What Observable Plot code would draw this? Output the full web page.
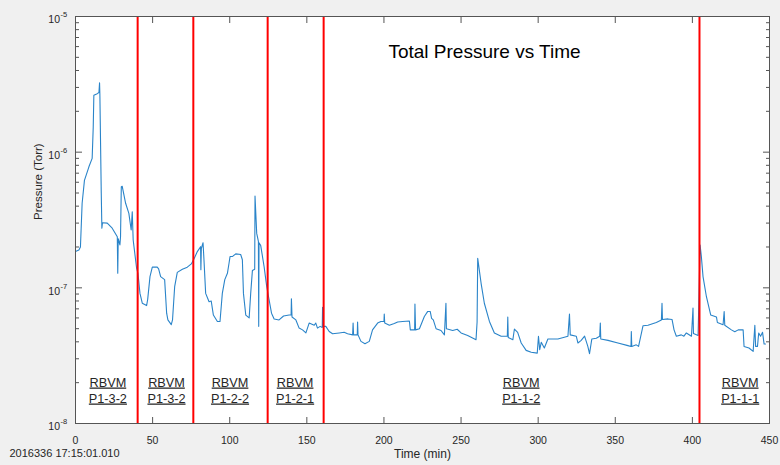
<!DOCTYPE html>
<html><head><meta charset="utf-8">
<script src="https://cdn.jsdelivr.net/npm/d3@7"></script>
<script src="https://cdn.jsdelivr.net/npm/@observablehq/plot@0.6"></script>
<style>html,body{margin:0;padding:0;background:#f0f0f0;} #chart{width:780px;height:465px;}</style>
</head><body><div id="chart"></div>
<script>
// ---- data ----
const times = [0,2.2,3.2,4.3,5.8,8.7,10.8,11.5,11.9,14.1,15.2,15.6,15.8,16.7,17.1,17.5,20.6,23.8,27.1,27.4,27.7,28.8,29.2,29.7,30.3,32.5,34.6,36.1,36.8,37.4,39.6,40.5,41.8,43.3,46.1,46.8,48.3,49.8,53.0,53.9,55.2,57.8,59.1,59.9,62.1,62.9,64.3,66.0,69.3,72.5,75.1,76.8,79.0,81.1,81.3,81.6,82.7,83.3,84.4,86.6,88.0,89.4,92.0,93.7,95.2,96.8,98.5,99.6,100.2,101.7,103.9,107.1,108.2,108.9,110.4,112.6,113.6,114.7,116.2,116.4,117.5,118.6,118.8,119.0,120.1,122.3,124.0,125.5,127.1,128.8,132.0,134.9,138.5,139.8,140.0,140.4,142.9,145.0,147.2,149.4,151.5,154.8,155.8,156.9,158.6,160.0,160.2,160.6,162.3,164.5,166.7,171.0,174.2,176.4,179.7,180.0,180.3,182.7,182.9,183.2,185.1,187.7,190.5,192.6,195.9,198.0,200.0,200.2,200.5,203.5,206.7,208.9,212.1,216.5,217.1,219.9,220.1,220.5,223.0,226.2,228.4,230.0,230.9,232.0,233.8,237.0,239.2,240.2,240.5,244.6,247.5,250.0,254.3,259.7,260.4,260.8,263.0,265.1,268.4,271.6,276.0,280.0,280.3,280.6,283.6,284.6,286.7,289.0,292.2,295.5,299.4,300.2,301.0,302.0,304.0,306.3,312.8,319.3,320.3,320.8,324.7,325.8,327.9,330.1,332.2,333.3,334.8,337.7,339.9,340.3,340.6,345.3,351.7,358.2,360.2,360.4,360.7,363.6,365.1,368.0,371.2,376.6,379.9,380.3,380.6,384.2,386.8,388.1,389.6,392.8,394.5,396.1,399.4,400.4,400.7,403.7,405.0,405.8,406.9,409.1,411.9,415.6,416.2,419.9,420.6,421.0,425.3,427.5,429.7,432.9,433.5,436.7,439.4,440.5,441.0,442.2,443.0,444.2,445.5,446.5,447.4];
const pressures = [1.85e-7,1.9e-7,2.0e-7,4.2e-7,6.2e-7,7.8e-7,9.0e-7,1.53e-6,2.63e-6,2.7e-6,2.75e-6,3.24e-6,2.7e-6,5.0e-7,2.75e-7,3.02e-7,3.0e-7,2.75e-7,2.38e-7,1.28e-7,2.3e-7,2.07e-7,2.38e-7,5.56e-7,5.6e-7,4.2e-7,3.54e-7,2.67e-7,3.64e-7,2.25e-7,1.40e-7,1.28e-7,9.1e-8,7.7e-8,7.4e-8,8.2e-8,1.21e-7,1.42e-7,1.42e-7,1.38e-7,1.21e-7,1.15e-7,6.5e-8,5.8e-8,5.35e-8,5.8e-8,1.02e-7,1.30e-7,1.37e-7,1.42e-7,1.50e-7,1.63e-7,1.85e-7,2.01e-7,1.36e-7,1.95e-7,2.15e-7,1.61e-7,9.1e-8,7.9e-8,8.0e-8,6.3e-8,5.65e-8,5.65e-8,9.1e-8,1.15e-7,1.28e-7,1.53e-7,1.7e-7,1.70e-7,1.78e-7,1.76e-7,1.61e-7,9.1e-8,6.3e-8,6.0e-8,9.1e-8,1.34e-7,1.37e-7,4.75e-7,2.52e-7,2.2e-7,5.2e-8,2.15e-7,2.05e-7,1.43e-7,1.02e-7,8.2e-8,6.5e-8,5.9e-8,5.8e-8,6.2e-8,6.3e-8,6.3e-8,8.3e-8,6.1e-8,5.8e-8,5.05e-8,4.9e-8,4.65e-8,5.5e-8,5.3e-8,5.5e-8,5.05e-8,5.2e-8,5.1e-8,7.2e-8,5.2e-8,5.2e-8,4.77e-8,4.59e-8,4.65e-8,4.7e-8,4.59e-8,4.5e-8,5.5e-8,4.5e-8,4.5e-8,5.6e-8,4.5e-8,4.03e-8,3.87e-8,4.03e-8,4.9e-8,5.5e-8,5.65e-8,5.65e-8,6.4e-8,5.5e-8,5.3e-8,5.45e-8,5.6e-8,5.65e-8,5.7e-8,4.9e-8,4.9e-8,7.6e-8,4.9e-8,5.0e-8,6.15e-8,6.7e-8,6.7e-8,5.95e-8,5.8e-8,5.0e-8,4.85e-8,4.5e-8,7.7e-8,5.0e-8,4.85e-8,4.95e-8,4.65e-8,4.45e-8,4.15e-8,5.6e-8,1.65e-7,1.08e-7,7.7e-8,5.65e-8,4.65e-8,4.4e-8,4.4e-8,6.1e-8,4.3e-8,4.15e-8,4.97e-8,4.7e-8,3.92e-8,3.46e-8,3.35e-8,3.3e-8,4.4e-8,3.5e-8,3.97e-8,3.6e-8,4.2e-8,4.2e-8,4.4e-8,6.4e-8,4.5e-8,4.4e-8,3.92e-8,4.1e-8,4.4e-8,3.7e-8,3.27e-8,4.2e-8,4.25e-8,4.4e-8,5.5e-8,4.2e-8,4.1e-8,3.92e-8,3.75e-8,3.7e-8,4.77e-8,3.7e-8,3.8e-8,3.7e-8,5.26e-8,5.3e-8,5.56e-8,5.8e-8,7.7e-8,5.85e-8,5.9e-8,5.85e-8,4.9e-8,4.4e-8,4.5e-8,4.4e-8,4.65e-8,4.4e-8,7.1e-8,4.6e-8,4.45e-8,2.07e-7,1.71e-7,1.21e-7,8.6e-8,6.3e-8,6.1e-8,5.55e-8,5.35e-8,6.7e-8,5.3e-8,4.9e-8,4.75e-8,4.9e-8,4.9e-8,3.7e-8,3.6e-8,3.4e-8,5.3e-8,3.7e-8,3.7e-8,4.65e-8,4.4e-8,4.7e-8,3.85e-8,3.85e-8];
const eventTimes = [40.3, 76.4, 124.6, 160.9, 404.6];
const segmentX = [21, 59, 100.2, 142.4, 289, 431];
const segmentTop = ["RBVM","RBVM","RBVM","RBVM","RBVM","RBVM"];
const segmentBottom = ["P1-3-2","P1-3-2","P1-2-2","P1-2-1","P1-1-2","P1-1-1"];
const xTicks = [0,50,100,150,200,250,300,350,400,450];
const yDecades = [1e-8,1e-7,1e-6,1e-5];
const yExponents = ["-8","-7","-6","-5"];
const yMinorMultipliers = [2,3,4,5,6,7,8,9];
const titleText = "Total Pressure vs Time";
const xLabel = "Time (min)";
const yLabel = "Pressure (Torr)";
const stampText = "2016336 17:15:01.010";

const data = times.map((t, i) => ({t, p: pressures[i]}));
const yMinor = yDecades.slice(0, 3).flatMap(d => yMinorMultipliers.map(m => d * m));

const axisColor = "#555555";
const textColor = "#262626";

const chart = Plot.plot({
  width: 780, height: 465,
  marginLeft: 75, marginRight: 11, marginTop: 16, marginBottom: 42,
  style: {fontFamily: "'Liberation Sans', Arial, sans-serif", background: "#f0f0f0", color: textColor},
  x: {domain: [0, 450]},
  y: {type: "log", domain: [1e-8, 1e-5]},
  marks: [
    Plot.frame({fill: "white", stroke: "none"}),
    // inward-pointing ticks on all four sides (MATLAB box style)
    Plot.axisX(xTicks, {anchor: "bottom", tickSize: 6, dy: -6, fill: "none", stroke: axisColor, label: null}),
    Plot.axisX(xTicks, {anchor: "top", tickSize: 6, dy: 6, fill: "none", stroke: axisColor, label: null}),
    Plot.axisX(xTicks, {anchor: "bottom", tickSize: 0, tickPadding: 13, fontSize: 10.5, fill: textColor, label: null, tickFormat: d => String(d)}),
    Plot.axisY(yDecades, {anchor: "left", tickSize: 7, dx: 7, fill: "none", stroke: axisColor, label: null}),
    Plot.axisY(yDecades, {anchor: "right", tickSize: 7, dx: -7, fill: "none", stroke: axisColor, label: null}),
    Plot.axisY(yMinor, {anchor: "left", tickSize: 4, dx: 4, fill: "none", stroke: axisColor, label: null}),
    Plot.axisY(yMinor, {anchor: "right", tickSize: 4, dx: -4, fill: "none", stroke: axisColor, label: null}),
    Plot.text(yDecades, {y: d => d, text: () => "10", frameAnchor: "left", dx: -15.5, dy: 3.5, textAnchor: "end", fontSize: 10.5, fill: textColor}),
    Plot.text(yDecades, {y: d => d, text: (d, i) => yExponents[i], frameAnchor: "left", dx: -15, dy: -1.5, textAnchor: "start", fontSize: 7.5, fill: textColor}),
    Plot.line(data, {x: "t", y: "p", stroke: "#2a84c9", strokeWidth: 1.1}),
    Plot.ruleX(eventTimes, {x: d => d, stroke: "#ff0000", strokeWidth: 2}),
    Plot.text(segmentX, {x: d => d, text: (d, i) => segmentTop[i], frameAnchor: "bottom", dy: -37, fontSize: 12.7, fill: textColor}),
    Plot.text(segmentX, {x: d => d, text: (d, i) => segmentBottom[i], frameAnchor: "bottom", dy: -21, fontSize: 12.7, fill: textColor}),
    Plot.text([titleText], {text: d => d, frameAnchor: "top", dx: 62, dy: 28, fontSize: 19, fill: "#000"}),
    Plot.text([xLabel], {text: d => d, frameAnchor: "bottom", dy: 34, fontSize: 12, fill: textColor}),
    Plot.text([yLabel], {text: d => d, frameAnchor: "left", dx: -37, rotate: -90, fontSize: 11.5, fill: textColor}),
    Plot.text([stampText], {text: d => d, frameAnchor: "bottom-left", dx: -66, dy: 33, textAnchor: "start", fontSize: 11, fill: textColor}),
    Plot.frame({stroke: axisColor})
  ]
});

chart.querySelectorAll("text").forEach(t => {
  const s = t.textContent;
  if (segmentTop.includes(s) || segmentBottom.includes(s)) t.style.textDecoration = "underline";
});
document.getElementById("chart").appendChild(chart);
</script>
</body></html>
